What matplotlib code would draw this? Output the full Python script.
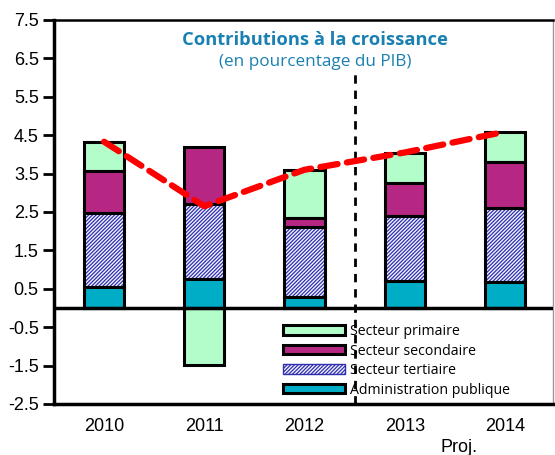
import matplotlib
matplotlib.use("Agg")
import matplotlib.pyplot as plt
import numpy as np

years = ["2010", "2011", "2012", "2013", "2014"]
admin = [0.54, 0.76, 0.29, 0.71, 0.67]
tertiaire = [1.93, 1.94, 1.83, 1.69, 1.94]
secondaire = [1.11, 1.48, 0.22, 0.86, 1.20]
primaire = [0.75, -1.48, 1.25, 0.78, 0.78]
croissance = [4.33, 2.65, 3.60, 4.05, 4.59]
yticks = [-2.5, -1.5, -0.5, 0.5, 1.5, 2.5, 3.5, 4.5, 5.5, 6.5, 7.5]

plt.rcParams["hatch.linewidth"] = 0.9

fig = plt.figure(figsize=(5.55, 4.55), dpi=100)
ax = fig.add_axes([54 / 555, 51 / 455, 499 / 555, 384 / 455])

x = np.arange(len(years))
w = 0.4
edge = dict(edgecolor="black", linewidth=2.2)

b1 = np.array(admin)
b2 = b1 + np.array(tertiaire)
b3 = b2 + np.array(secondaire)
prim = np.array(primaire)
prim_bottom = np.where(prim >= 0, b3, 0)

ax.bar(x, primaire, w, bottom=prim_bottom, color="#b3fdcb", label="Secteur primaire", **edge)
ax.bar(x, secondaire, w, bottom=b2, color="#b62784", label="Secteur secondaire", **edge)
# hatch drawn in blue, outline drawn separately in black
ax.bar(x, tertiaire, w, bottom=b1, facecolor="#f4f4ff", edgecolor="#2f2fb0",
       hatch="/////////", linewidth=0)
ax.bar(x, tertiaire, w, bottom=b1, fill=False, **edge)
ax.bar(x, admin, w, color="#00adc6", label="Administration publique", **edge)

# legend proxy for the hatched series
tert_proxy = plt.Rectangle((0, 0), 1, 1, facecolor="#f4f4ff", edgecolor="#2f2fb0",
                           hatch="/////////", linewidth=1)

ax.plot(x, croissance, color="#ff0000", lw=4.5, linestyle=(0, (2.8, 1.5)),
        dash_capstyle="round", zorder=5)

ax.axhline(0, color="black", lw=2.5, zorder=4)
ax.plot([2.5, 2.5], [-2.5, 6.1], color="black", lw=2, linestyle=(0, (3, 2.5)), zorder=1)

ax.set_xlim(-0.5, 4.48)
ax.set_ylim(-2.5, 7.5)
ax.set_yticks(yticks)
ax.set_yticklabels([f"{v:g}" for v in yticks], fontsize=13, family="Liberation Sans")
ax.set_xticks(x)
ax.set_xticklabels(years, fontsize=13, family="Liberation Sans")
ax.tick_params(axis="y", length=8, width=2, direction="out", pad=3)
ax.tick_params(axis="x", length=0, pad=10)

for side in ["left", "bottom"]:
    ax.spines[side].set_linewidth(2.5)
ax.spines["top"].set_linewidth(1.8)
ax.spines["right"].set_color("#999999")
ax.spines["right"].set_linewidth(1)

fig.text(315 / 555, 1 - 40 / 455, "Contributions à la croissance", ha="center", va="center",
         fontsize=13.2, fontweight="bold", color="#1a80b2", family="Open Sans")
fig.text(315 / 555, 1 - 62 / 455, "(en pourcentage du PIB)", ha="center", va="center",
         fontsize=12.3, color="#1a80b2", family="Open Sans")
fig.text(459 / 555, 1 - 447 / 455, "Proj.", ha="center", va="center",
         fontsize=13, family="Liberation Sans")

handles, labels = ax.get_legend_handles_labels()
handles = [handles[0], handles[1], tert_proxy, handles[2]]
labels = ["Secteur primaire", "Secteur secondaire", "Secteur tertiaire", "Administration publique"]
ax.legend(handles, labels, loc="upper left", bbox_to_anchor=(276 / 555, 1 - 317 / 455),
          bbox_transform=fig.transFigure, frameon=False, borderpad=0,
          handlelength=4.4, handleheight=0.65, handletextpad=0.3, labelspacing=0.32,
          prop={"family": "Open Sans", "size": 10.2})

fig.savefig("out.png", dpi=100)
